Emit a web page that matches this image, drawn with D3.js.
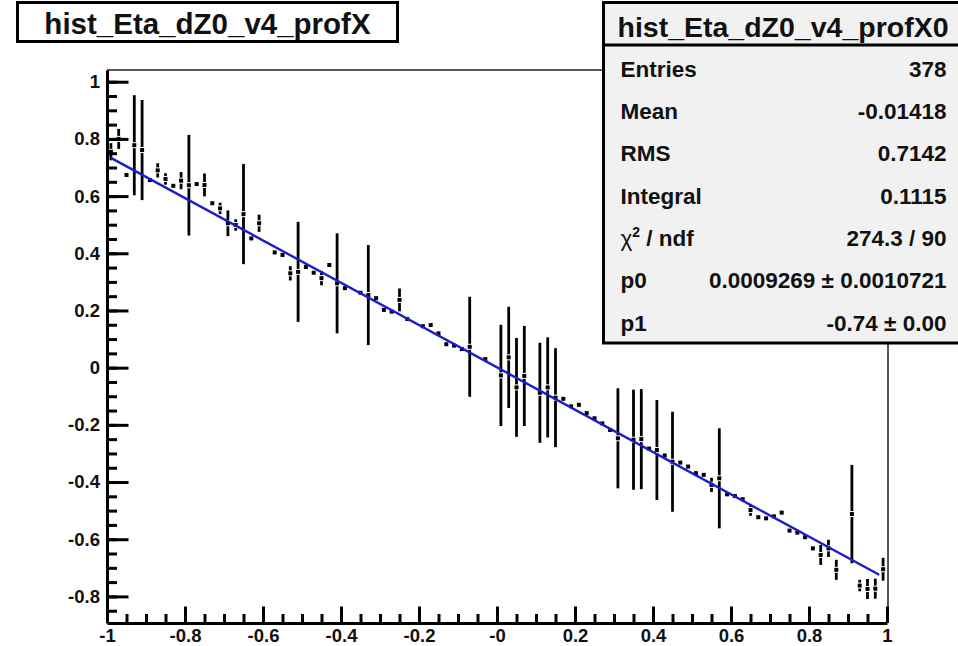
<!DOCTYPE html>
<html>
<head>
<meta charset="utf-8">
<script src="https://cdn.jsdelivr.net/npm/d3@7"></script>
<style>
  body { margin: 0; background: #fff; }
  text { font-family: "Liberation Sans", Arial, sans-serif; font-weight: bold; fill: #111; }
</style>
</head>
<body>
<svg width="958" height="646"></svg>
<script>
// binning of the profile histogram
var nBins = 100;
var xMin = -1;
var xMax = 1;

// bin means (null = empty bin)
var binValues = [
  0.755, 0.80, 0.674, 0.778, 0.761, 0.656, 0.69, 0.66, 0.636, 0.654,
  0.638, 0.642, 0.639, 0.575, 0.557, 0.505, 0.499, 0.537, 0.452, 0.505,
  null, 0.403, 0.394, 0.330, 0.335, 0.352, 0.332, 0.313, 0.359, 0.295,
  0.278, null, 0.262, 0.254, 0.243, 0.202, 0.196, 0.237, 0.17, null,
  0.145, 0.149, 0.120, 0.082, 0.077, 0.065, 0.073, null, 0.03, null,
  -0.027, 0.036, -0.069, -0.029, null, -0.088, -0.069, -0.105, -0.109, -0.135,
  -0.130, -0.159, -0.177, -0.195, -0.218, -0.247, null, -0.252, -0.250, -0.283,
  -0.288, -0.307, -0.329, -0.332, -0.346, -0.369, -0.375, -0.410, -0.387, -0.443,
  -0.449, -0.460, -0.498, -0.523, -0.527, -0.52, -0.507, -0.570, -0.577, -0.593,
  -0.632, -0.655, -0.632, -0.707, null, -0.512, -0.762, -0.774, -0.773, -0.705
];

// errors on the bin means
var binErrors = [
  0.03, 0.035, 0.01, 0.175, 0.175, 0.01, 0.025, 0.02, 0.01, 0.03,
  0.176, 0.01, 0.04, 0.01, 0.02, 0.045, 0.02, 0.175, 0.01, 0.03,
  0, 0.01, 0.01, 0.025, 0.175, 0.01, 0.01, 0.025, 0.01, 0.175,
  0.01, 0, 0.01, 0.175, 0.01, 0.01, 0.01, 0.04, 0.01, 0,
  0.01, 0.01, 0.01, 0.01, 0.01, 0.01, 0.175, 0, 0.01, 0,
  0.177, 0.177, 0.173, 0.175, 0, 0.175, 0.175, 0.173, 0.01, 0.01,
  0.01, 0.01, 0.01, 0.01, 0.01, 0.175, 0, 0.175, 0.175, 0.01,
  0.175, 0.01, 0.175, 0.01, 0.01, 0.01, 0.01, 0.025, 0.175, 0.01,
  0.01, 0.01, 0.02, 0.01, 0.01, 0.01, 0.01, 0.01, 0.01, 0.01,
  0.01, 0.035, 0.03, 0.035, 0, 0.172, 0.02, 0.035, 0.035, 0.04
];

var xTicks = [-1, -0.8, -0.6, -0.4, -0.2, 0, 0.2, 0.4, 0.6, 0.8, 1];
var xTickLabels = ["-1", "-0.8", "-0.6", "-0.4", "-0.2", "-0", "0.2", "0.4", "0.6", "0.8", "1"];
var yTicks = [-0.8, -0.6, -0.4, -0.2, 0, 0.2, 0.4, 0.6, 0.8, 1];
var yTickLabels = ["-0.8", "-0.6", "-0.4", "-0.2", "0", "0.2", "0.4", "0.6", "0.8", "1"];

// linear fit result
var fitP0 = 0.0009269;
var fitP1 = -0.74;
var fitRange = [-0.99, 0.98];

var histTitle = "hist_Eta_dZ0_v4_profX";
var statTitle = "hist_Eta_dZ0_v4_profX0";
var statLabels = ["Entries", "Mean", "RMS", "Integral", "chi2", "p0", "p1"];
var statValues = ["378", "-0.01418", "0.7142", "0.1115", "274.3 / 90",
  "0.0009269 \u00b1 0.0010721", "-0.74 \u00b1 0.00"];

var svg = d3.select("svg");
var frame = {left: 107, right: 888, top: 70, bottom: 623};

var x = d3.scaleLinear().domain([xMin, xMax]).range([frame.left, 887]);
var y = d3.scaleLinear().domain([-0.893, 1.041]).range([frame.bottom, frame.top]);

// thin top / right frame lines
svg.append("path")
  .attr("d", "M" + frame.left + "," + frame.top + "H" + frame.right + "V" + frame.bottom)
  .attr("fill", "none")
  .attr("stroke", "#222")
  .attr("stroke-width", 1.5);

// minor ticks every 0.05
var xMinor = d3.range(-19, 20).map(function(k) { return k * 0.05; });
var yMinor = d3.range(-17, 21).map(function(k) { return k * 0.05; });

svg.append("g")
  .attr("class", "axis axis--x-minor")
  .attr("transform", "translate(0," + frame.bottom + ")")
  .call(d3.axisBottom(x).tickValues(xMinor).tickSize(-9).tickFormat(""))
  .call(function(g) { g.select(".domain").remove(); });

svg.append("g")
  .attr("class", "axis axis--y-minor")
  .attr("transform", "translate(" + frame.left + ",0)")
  .call(d3.axisLeft(y).tickValues(yMinor).tickSize(-10).tickFormat(""))
  .call(function(g) { g.select(".domain").remove(); });

svg.append("g")
  .attr("class", "axis axis--x")
  .attr("transform", "translate(0," + frame.bottom + ")")
  .call(d3.axisBottom(x).tickValues(xTicks).tickSize(-16.5).tickSizeOuter(0).tickPadding(6)
    .tickFormat(function(d, i) { return xTickLabels[i]; }));

svg.append("g")
  .attr("class", "axis axis--y")
  .attr("transform", "translate(" + frame.left + ",0)")
  .call(d3.axisLeft(y).tickValues(yTicks).tickSize(-21.5).tickSizeOuter(0).tickPadding(7)
    .tickFormat(function(d, i) { return yTickLabels[i]; }));

svg.selectAll(".axis line").attr("stroke", "#000").attr("stroke-width", 3);
svg.selectAll(".axis .domain").attr("stroke", "#000").attr("stroke-width", 3);
svg.selectAll(".axis text")
  .attr("fill", "#111")
  .style("font-family", "'Liberation Sans', Arial, sans-serif")
  .style("font-weight", "bold")
  .style("font-size", "18.5px");

// profile points
var binWidth = (xMax - xMin) / nBins;
var points = binValues.map(function(v, i) {
  return {x: xMin + (i + 0.5) * binWidth, v: v, e: binErrors[i]};
}).filter(function(d) { return d.v !== null; });

var gap = 3;
var graph = svg.append("g");

graph.selectAll(".err-up")
  .data(points.filter(function(d) { return y(d.v) - y(d.v + d.e) > gap; }))
  .enter().append("line")
  .attr("x1", function(d) { return x(d.x); })
  .attr("x2", function(d) { return x(d.x); })
  .attr("y1", function(d) { return y(d.v + d.e); })
  .attr("y2", function(d) { return y(d.v) - gap; })
  .attr("stroke", "#000")
  .attr("stroke-width", 2.8);

graph.selectAll(".err-down")
  .data(points.filter(function(d) { return y(d.v - d.e) - y(d.v) > gap; }))
  .enter().append("line")
  .attr("x1", function(d) { return x(d.x); })
  .attr("x2", function(d) { return x(d.x); })
  .attr("y1", function(d) { return y(d.v) + gap; })
  .attr("y2", function(d) { return y(d.v - d.e); })
  .attr("stroke", "#000")
  .attr("stroke-width", 2.8);

graph.selectAll(".marker")
  .data(points)
  .enter().append("rect")
  .attr("class", "marker")
  .attr("x", function(d) { return x(d.x) - 2; })
  .attr("y", function(d) { return y(d.v) - 2; })
  .attr("width", 4)
  .attr("height", 4)
  .attr("fill", "#000");

// fit line
svg.append("path")
  .datum(fitRange)
  .attr("fill", "none")
  .attr("stroke", "#1c1cc8")
  .attr("stroke-width", 2.4)
  .attr("d", d3.line()
    .x(function(d) { return x(d); })
    .y(function(d) { return y(fitP0 + fitP1 * d); }));

// title box
svg.append("rect")
  .attr("x", 17.5).attr("y", 2.5)
  .attr("width", 380).attr("height", 39)
  .attr("fill", "#fff")
  .attr("stroke", "#000")
  .attr("stroke-width", 3);

svg.append("text")
  .attr("x", 207.5).attr("y", 33.5)
  .attr("text-anchor", "middle")
  .style("font-size", "29.5px")
  .text(histTitle);

// stats box
var stats = svg.append("g");
stats.append("rect")
  .attr("x", 603.5).attr("y", 2.5)
  .attr("width", 360).attr("height", 340.5)
  .attr("fill", "#f1f1f1")
  .attr("stroke", "#000")
  .attr("stroke-width", 3);

stats.append("line")
  .attr("x1", 603.5).attr("x2", 963)
  .attr("y1", 45).attr("y2", 45)
  .attr("stroke", "#000")
  .attr("stroke-width", 3);

stats.append("text")
  .attr("x", 783).attr("y", 36.5)
  .attr("text-anchor", "middle")
  .style("font-size", "28.5px")
  .text(statTitle);

var rowY = d3.scaleLinear().domain([0, 6]).range([76.7, 330.6]);

stats.selectAll(".stat-label")
  .data(statLabels)
  .enter().append("text")
  .attr("class", "stat-label")
  .attr("x", 620.5)
  .attr("y", function(d, i) { return rowY(i); })
  .style("font-size", "22.5px")
  .each(function(d) {
    var t = d3.select(this);
    if (d === "chi2") {
      t.append("tspan").style("font-weight", "normal").text("\u03c7");
      t.append("tspan").attr("dy", -9).style("font-size", "14px").text("2");
      t.append("tspan").attr("dy", 9).text(" / ndf");
    } else {
      t.text(d);
    }
  });

stats.selectAll(".stat-value")
  .data(statValues)
  .enter().append("text")
  .attr("class", "stat-value")
  .attr("x", 946.5)
  .attr("y", function(d, i) { return rowY(i); })
  .attr("text-anchor", "end")
  .style("font-size", "22.5px")
  .text(function(d) { return d; });
</script>
</body>
</html>
